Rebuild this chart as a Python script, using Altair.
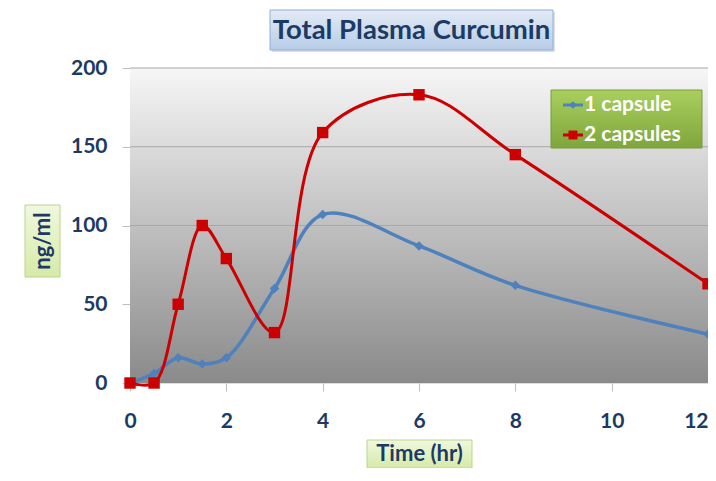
import altair as alt
import pandas as pd

# ---- data ----
time_hr = [0, 0.5, 1, 1.5, 2, 3, 4, 6, 8, 12]
one_capsule = [0, 6, 16, 12, 16, 60, 107, 87, 62, 31]
two_capsules = [0, 0, 50, 100, 79, 32, 159, 183, 145, 63]
series_names = ["1 capsule", "2 capsules"]
x_ticks = [0, 2, 4, 6, 8, 10, 12]
y_ticks = [0, 50, 100, 150, 200]
grid_vals = [50, 100, 150, 200]

BLUE = "#4F81BD"
RED = "#CC0000"
NAVY = "#1C3A63"
FONT = "Lato"

W, H = 578, 315

df = pd.DataFrame({
    "time": time_hr * 2,
    "value": one_capsule + two_capsules,
    "series": [series_names[0]] * len(time_hr) + [series_names[1]] * len(time_hr),
})
grid_df = pd.DataFrame({"v": grid_vals})
one = alt.Data(values=[{}])

xscale = alt.Scale(domain=[0, 12], nice=False, zero=False)
yscale = alt.Scale(domain=[0, 200], nice=False)

x_axis = alt.Axis(values=x_ticks, title=None, grid=False, domain=False,
                  tickColor="#BFBFBF", tickSize=8, tickWidth=1,
                  labelFont=FONT, labelFontSize=21, labelFontWeight="bold",
                  labelColor=NAVY, labelPadding=19, labelFlush=False,
                  labelAlign={"condition": {"test": "datum.value >= 12", "value": "right"},
                              "value": "center"})
y_axis = alt.Axis(values=y_ticks, title=None, grid=False, domain=False,
                  tickColor="#BFBFBF", tickSize=8, tickWidth=1,
                  labelFont=FONT, labelFontSize=21, labelFontWeight="bold",
                  labelColor=NAVY, labelPadding=15)

X = alt.X("time:Q", scale=xscale, axis=x_axis)
Y = alt.Y("value:Q", scale=yscale, axis=y_axis)

# plot-area gradient background
bg = alt.Chart(one).mark_rect(
    fill=alt.LinearGradient(
        gradient="linear", x1=0, y1=0, x2=0, y2=1,
        stops=[alt.GradientStop(offset=0, color="#F6F6F6"),
               alt.GradientStop(offset=1, color="#8A8A8A")]),
).encode(x=alt.value(0), x2=alt.value(W), y=alt.value(0), y2=alt.value(H))

grid = alt.Chart(grid_df).mark_rule(color="#A8A8A8", strokeWidth=1).encode(
    y=alt.Y("v:Q", scale=yscale, axis=y_axis)
)

def series_layers(name, color, width, shape, size):
    base = alt.Chart(df).transform_filter(alt.datum.series == name)
    line = base.mark_line(interpolate="catmull-rom", color=color, strokeWidth=width).encode(x=X, y=Y)
    pts = base.mark_point(shape=shape, filled=True, color=color, size=size, opacity=1).encode(x=X, y=Y)
    return [line, pts]

blue_layers = series_layers(series_names[0], BLUE, 3.5, "diamond", 90)
red_layers = series_layers(series_names[1], RED, 3, "square", 130)

# title box
title_shadow = alt.Chart(one).mark_rect(fill="#000000", opacity=0.12).encode(
    x=alt.value(142), x2=alt.value(425), y=alt.value(-56), y2=alt.value(-16))
title_box = alt.Chart(one).mark_rect(
    fill=alt.LinearGradient(gradient="linear", x1=0, y1=0, x2=0, y2=1,
                            stops=[alt.GradientStop(offset=0, color="#E3EBF6"),
                                   alt.GradientStop(offset=1, color="#B7CCE6")]),
    stroke="#8EAEDB", strokeWidth=1,
).encode(x=alt.value(140), x2=alt.value(423), y=alt.value(-58), y2=alt.value(-18))
title_txt = alt.Chart(one).mark_text(
    text="Total Plasma Curcumin", font=FONT, fontSize=27.5, fontWeight="bold",
    color=NAVY, align="center", baseline="middle",
).encode(x=alt.value(281.5), y=alt.value(-37))

# y-axis title box
green_grad = alt.LinearGradient(gradient="linear", x1=0, y1=0, x2=0, y2=1,
                                stops=[alt.GradientStop(offset=0, color="#F0F8DE"),
                                       alt.GradientStop(offset=1, color="#D6EAA8")])
ybox = alt.Chart(one).mark_rect(fill=green_grad, stroke="#B9D58A", strokeWidth=1).encode(
    x=alt.value(-105), x2=alt.value(-70), y=alt.value(137), y2=alt.value(209))
ytxt = alt.Chart(one).mark_text(
    text="ng/ml", font=FONT, fontSize=22, fontWeight="bold", color=NAVY,
    angle=270, align="center", baseline="middle",
).encode(x=alt.value(-87.5), y=alt.value(173))

# x-axis title box
xbox = alt.Chart(one).mark_rect(fill=green_grad, stroke="#B9D58A", strokeWidth=1).encode(
    x=alt.value(237), x2=alt.value(342), y=alt.value(372), y2=alt.value(400))
xtxt = alt.Chart(one).mark_text(
    text="Time (hr)", font=FONT, fontSize=22, fontWeight="bold", color=NAVY,
    align="center", baseline="middle",
).encode(x=alt.value(289.5), y=alt.value(386))

# legend
leg_box = alt.Chart(one).mark_rect(
    fill=alt.LinearGradient(gradient="linear", x1=0, y1=0, x2=0, y2=1,
                            stops=[alt.GradientStop(offset=0, color="#A9CF5E"),
                                   alt.GradientStop(offset=1, color="#7FA63C")]),
    stroke="#7A9A3A", strokeWidth=1,
).encode(x=alt.value(421), x2=alt.value(572), y=alt.value(22), y2=alt.value(80))

leg_layers = []
for i, (name, color, shape, size) in enumerate([(series_names[0], BLUE, "diamond", 60),
                                                 (series_names[1], RED, "square", 80)]):
    yy = 37 + i * 30
    leg_layers.append(alt.Chart(one).mark_rule(color=color, strokeWidth=3).encode(
        x=alt.value(433), x2=alt.value(453), y=alt.value(yy)))
    leg_layers.append(alt.Chart(one).mark_point(shape=shape, filled=True, color=color,
                                                size=size, opacity=1).encode(
        x=alt.value(443), y=alt.value(yy)))
    leg_layers.append(alt.Chart(one).mark_text(
        text=name, font=FONT, fontSize=21, fontWeight="bold", color="white",
        align="left", baseline="middle").encode(x=alt.value(454), y=alt.value(yy)))

chart = alt.layer(
    bg, grid, *blue_layers, *red_layers,
    title_shadow, title_box, title_txt, ybox, ytxt, xbox, xtxt, leg_box, *leg_layers,
).properties(
    width=W, height=H,
    autosize=alt.AutoSizeParams(type="none"),
    padding={"left": 122, "top": 60, "right": 0, "bottom": 85},
).configure_view(stroke=None).configure(background="white")

chart.save("out.html", embed_options={"renderer": "svg", "actions": False})
